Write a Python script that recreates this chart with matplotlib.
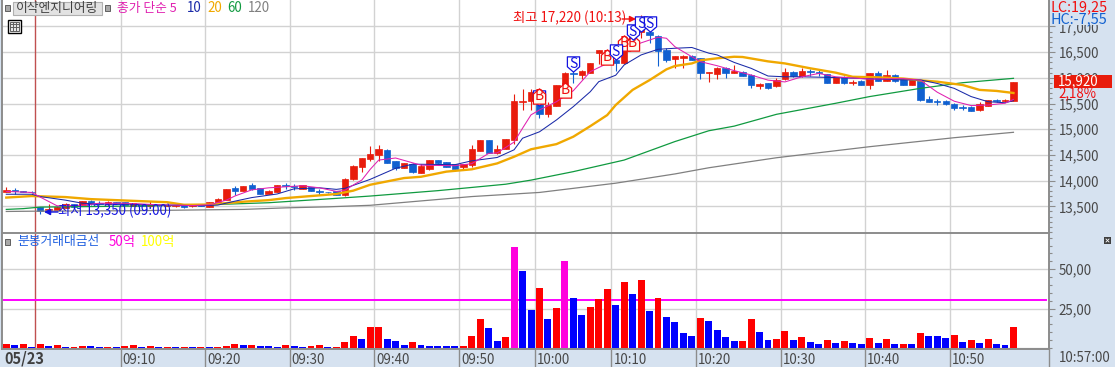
import matplotlib
matplotlib.use('Agg')
import matplotlib.pyplot as plt
from matplotlib.path import Path
from matplotlib.patches import Rectangle
from matplotlib.ticker import FuncFormatter, MultipleLocator
from matplotlib.transforms import ScaledTranslation

plt.rcParams['font.family'] = ['Liberation Sans Narrow', 'Noto Sans CJK KR', 'DejaVu Sans']

W, H = 1115, 367

# one minute candles, bar number is the x value
opens = [13780, 13810, 13790, 13780, 13480, 13420, 13430, 13475, 13545, 13525, 13600, 13560, 13540, 13585, 13580,
         13510, 13520, 13500, 13530, 13515, 13515, 13545, 13500, 13520, 13495, 13565, 13625, 13850, 13805, 13910,
         13850, 13745, 13785, 13915, 13895, 13845, 13880, 13790, 13780, 13800, 13720, 14030, 14270, 14420, 14500,
         14595, 14375, 14245, 14325, 14155, 14235, 14400, 14355, 14315, 14260, 14300, 14575, 14790, 14535, 14615,
         14790, 15525, 15550, 15505, 15300, 15450, 15880, 16100, 16055, 16090, 16475, 16315, 16345, 16280, 16880,
         16900, 16900, 16815, 16540, 16360, 16390, 16430, 16380, 16090, 16075, 16190, 16090, 16120, 16060, 15850,
         15895, 15840, 15970, 16115, 16030, 16135, 16115, 16065, 15895, 16025, 15890, 15945, 15860, 16095, 15945,
         16060, 15985, 15865, 15960, 15590, 15545, 15540, 15500, 15425, 15440, 15375, 15450, 15565, 15555, 15555]
closes = [13820, 13790, 13780, 13770, 13415, 13440, 13495, 13545, 13480, 13600, 13545, 13550, 13590, 13545, 13530,
          13560, 13510, 13545, 13520, 13525, 13525, 13480, 13545, 13510, 13585, 13640, 13835, 13805, 13895, 13830,
          13745, 13805, 13910, 13905, 13885, 13910, 13805, 13775, 13770, 13730, 14030, 14285, 14435, 14520, 14615,
          14350, 14245, 14335, 14170, 14285, 14400, 14350, 14270, 14235, 14325, 14615, 14790, 14545, 14615, 14810,
          15550, 15550, 15730, 15300, 15470, 15860, 16085, 16075, 16130, 16280, 16540, 16500, 16280, 16670, 16670,
          17050, 16830, 16530, 16350, 16425, 16425, 16350, 16090, 16115, 16185, 16100, 16135, 16040, 15870, 15875,
          15810, 15955, 16105, 16030, 16140, 16115, 16095, 15895, 16020, 15895, 15920, 15870, 16095, 15945, 16060,
          15945, 15865, 15960, 15570, 15535, 15535, 15490, 15405, 15415, 15360, 15495, 15570, 15555, 15565, 15920]
highs = [13870, 13850, 13800, 13790, 13490, 13540, 13510, 13560, 13550, 13610, 13625, 13600, 13595, 13590, 13590,
         13570, 13530, 13605, 13535, 13530, 13530, 13550, 13550, 13525, 13590, 13670, 13840, 13895, 13900, 13960,
         13855, 13810, 13915, 13960, 13930, 13915, 13885, 13845, 13785, 13805, 14060, 14300, 14440, 14680, 14695,
         14615, 14380, 14340, 14340, 14320, 14405, 14405, 14360, 14320, 14330, 14690, 14795, 14800, 14695, 14815,
         15690, 15785, 15790, 15700, 15520, 15870, 16110, 16240, 16160, 16285, 16545, 16520, 16480, 16700, 16900,
         17220, 17000, 16830, 16575, 16430, 16440, 16435, 16395, 16120, 16215, 16205, 16250, 16130, 16065, 15900,
         15900, 15990, 16190, 16135, 16190, 16180, 16150, 16070, 16025, 16030, 15960, 15950, 16100, 16130, 16160,
         16065, 15990, 15965, 15965, 15650, 15590, 15560, 15505, 15470, 15445, 15530, 15575, 15580, 15590, 15925]
lows = [13770, 13740, 13770, 13760, 13350, 13360, 13420, 13460, 13470, 13520, 13520, 13530, 13535, 13540, 13520,
        13505, 13500, 13495, 13515, 13510, 13480, 13475, 13495, 13505, 13490, 13560, 13620, 13725, 13800, 13825,
        13740, 13740, 13780, 13845, 13820, 13840, 13800, 13725, 13765, 13725, 13710, 14010, 14170, 14380, 14375,
        14345, 14210, 14240, 14150, 14150, 14210, 14310, 14265, 14230, 14200, 14260, 14570, 14540, 14510, 14610,
        14720, 15375, 15375, 15220, 15235, 15445, 15875, 15890, 15975, 16085, 16260, 16300, 16140, 16275, 16660,
        16780, 16680, 16230, 16310, 16200, 16200, 16340, 15985, 15925, 15985, 16000, 16085, 16035, 15810, 15790,
        15780, 15820, 15965, 16025, 16025, 16030, 16030, 15890, 15890, 15880, 15870, 15865, 15790, 15940, 15940,
        15920, 15860, 15860, 15555, 15530, 15480, 15470, 15375, 15370, 15355, 15350, 15445, 15520, 15530, 15550]

ma5_x = [0, 3, 4, 6, 9, 11, 14, 18, 22, 24, 26, 27, 29, 31, 33, 35, 37, 39, 40, 41, 42, 43, 44, 46, 49, 53, 55, 57,
         58, 60, 61, 62, 63, 65, 67, 69, 71, 73, 75, 77, 78, 79, 81, 82, 84, 86, 88, 90, 92, 94, 96, 98, 102, 106,
         108, 110, 112, 114, 116, 118, 119]
ma5_y = [13790, 13770, 13680, 13510, 13520, 13560, 13560, 13530, 13515, 13530, 13620, 13700, 13820, 13860, 13880,
         13900, 13860, 13790, 13810, 13915, 14010, 14220, 14400, 14440, 14300, 14290, 14330, 14530, 14540, 14750,
         15020, 15280, 15375, 15535, 15750, 16120, 16280, 16540, 16680, 16790, 16770, 16605, 16410, 16315, 16235,
         16140, 16055, 15955, 15920, 16020, 16085, 16020, 15975, 15985, 15955, 15720, 15545, 15460, 15470, 15505,
         15580]
ma10_x = [0, 3, 4, 7, 9, 11, 15, 23, 25, 27, 29, 32, 34, 37, 39, 40, 43, 46, 48, 53, 55, 58, 60, 61, 63, 65, 67, 69,
          70, 72, 73, 75, 77, 79, 81, 83, 84, 86, 88, 90, 92, 94, 98, 102, 106, 108, 110, 112, 114, 116, 118, 119]
ma10_y = [13735, 13735, 13690, 13620, 13560, 13545, 13540, 13510, 13525, 13600, 13670, 13740, 13840, 13860, 13830,
          13850, 14025, 14240, 14320, 14310, 14385, 14450, 14600, 14825, 14950, 15180, 15440, 15730, 15925, 16050,
          16250, 16445, 16555, 16575, 16590, 16480, 16445, 16300, 16185, 16035, 16020, 16020, 16005, 15980, 15960,
          15960, 15890, 15795, 15635, 15535, 15515, 15555]
ma20_x = [0, 3, 7, 10, 13, 16, 19, 21, 24, 28, 31, 33, 36, 39, 41, 43, 47, 49, 52, 55, 58, 60, 62, 65, 67, 69, 71,
          72, 74, 76, 78, 79, 81, 82, 84, 86, 87, 90, 92, 95, 98, 100, 103, 106, 108, 110, 113, 115, 117, 119]
ma20_y = [13670, 13700, 13680, 13640, 13620, 13600, 13580, 13530, 13535, 13590, 13620, 13660, 13700, 13740, 13805,
          13920, 14050, 14075, 14175, 14220, 14335, 14465, 14610, 14710, 14855, 15060, 15275, 15470, 15765, 15955,
          16165, 16230, 16280, 16340, 16380, 16410, 16405, 16320, 16280, 16185, 16100, 16020, 16010, 15985, 15950,
          15925, 15860, 15765, 15745, 15705]
ma60_x = [0, 2, 3, 4, 15, 23, 31, 39, 43, 51, 59, 62, 67, 73, 79, 83, 86, 91, 98, 102, 108, 113, 119]
ma60_y = [13440, 13455, 13470, 13485, 13505, 13525, 13570, 13655, 13700, 13805, 13930, 14010, 14175, 14400, 14760,
          14970, 15060, 15290, 15505, 15635, 15795, 15905, 15990]
ma120_x = [0, 3, 15, 28, 33, 38, 43, 55, 63, 72, 79, 83, 91, 102, 112, 119]
ma120_y = [13400, 13405, 13415, 13440, 13470, 13490, 13520, 13690, 13770, 13950, 14130, 14250, 14445, 14660, 14835,
           14940]

# buy / sell flags: bar, price at centre of flag
sell_x = [63, 67, 72, 74, 75, 76]
sell_y = [15600, 16269, 16509, 16885, 17047, 17047]
buy_x = [63, 66, 71, 73, 74]
buy_y = [15653, 15763, 16412, 16671, 16671]

# turnover per bar, r up, b down, m above the 50 line
volume = [2.6, 1.9, 2.6, 0.6, 2.6, 1.3, 1.9, 0.6, 0.6, 1.3, 1.3, 0.6, 0.6, 0.6, 1.3, 1.9, 0.6, 1.3, 0.6, 0.6, 0.6,
          0.6, 0.6, 0.6, 0.6, 0.6, 1.3, 2.6, 1.9, 1.9, 1.3, 1.3, 0.6, 1.9, 1.3, 0.6, 1.3, 1.9, 0.6, 0.6, 3.8, 7.7,
          5.8, 13.5, 13.5, 5.8, 4.5, 1.9, 3.8, 1.9, 1.3, 1.3, 1.3, 1.3, 1.3, 7.7, 18.6, 12.8, 4.5, 7.0, 64.0, 48.7,
          24.4, 37.8, 18.6, 25.6, 55.0, 32.0, 21.2, 26.3, 30.8, 37.2, 27.6, 41.7, 34.0, 43.0, 23.7, 32.0, 19.9, 16.7,
          9.6, 7.7, 19.2, 17.3, 11.5, 7.0, 4.5, 4.5, 18.6, 10.3, 5.1, 5.8, 10.9, 5.1, 7.0, 3.8, 2.6, 5.1, 3.2, 4.5,
          3.2, 2.6, 6.4, 3.2, 5.8, 2.6, 2.6, 2.6, 9.6, 7.7, 7.7, 6.4, 8.3, 3.8, 5.1, 3.2, 5.8, 2.6, 1.9, 13.5]
volume_kind = list('rbrbrbrbrrbbrbrrbrbrbrbrbrrrbrbbbrbbrrbrrrbr'
                   'rbbbrbbbbbrrrbbrmbbrbrmbbrrrbrbrbrbbbbrbbbbr'
                   'rbbrrbrbbrbrbbrbrbrbrbbbrbrbrbbr')
time_pos = [13.5, 23.5, 33.5, 43.5, 53.5, 62.5, 71.5, 81.5, 91.5, 101.5, 111.5]
time_labels = ['09:10', '09:20', '09:30', '09:40', '09:50', '10:00', '10:10', '10:20', '10:30', '10:40', '10:50']
vol_line = 30.7

UP, DOWN = '#e81c0c', '#1060d0'
GRID = '#d2d2d2'
PANEL = '#d6e2f0'
AXIS = '#8c8c8c'
TEXT = '#484848'
FS = 9.6


def box(x0, y0, x1, y1):
    # pixel box, y measured from the top
    return [x0 / W, 1 - y1 / H, (x1 - x0) / W, (y1 - y0) / H]


fig = plt.figure(figsize=(W / 100, H / 100), dpi=100, facecolor=PANEL)
ax = fig.add_axes(box(2, 0, 1049, 233))
ax2 = fig.add_axes(box(2, 233, 1049, 349))

xlim = (-0.508, 123.2)
for a in (ax, ax2):
    a.set_xlim(xlim)
    a.set_axisbelow(True)
    a.grid(True, color=GRID, lw=1)
    a.yaxis.tick_right()
    a.spines['top'].set_visible(False)
    a.spines['bottom'].set_visible(False)
    for s in ('left', 'right'):
        a.spines[s].set_color(AXIS)
        a.spines[s].set_linewidth(1.4)
    a.set_xticks(time_pos)
    a.axvline(3.45, color='#c05050', lw=1, zorder=1)
    a.tick_params(axis='y', which='major', length=4.5, width=0.8, color=AXIS, labelcolor=TEXT,
                  labelsize=FS, pad=2.5)
    a.tick_params(axis='y', which='minor', length=2.4, width=0.8, color=AXIS)
    a.tick_params(axis='y', which='minor', left=False)

# PRICE PANEL
ax.set_ylim(12981, 17514)
ax.set_yticks(range(13500, 17500, 500))
ax.yaxis.set_major_formatter(FuncFormatter(lambda v, p: '{:,.0f}'.format(v)))
ax.yaxis.set_minor_locator(MultipleLocator(100))
ax.tick_params(axis='x', length=0, labelbottom=False)

bars = list(range(len(opens)))
colors = [UP if c >= o else DOWN for o, c in zip(opens, closes)]
ax.vlines(bars, lows, highs, colors=colors, lw=0.8, zorder=2)
ax.bar(bars, [abs(c - o) for o, c in zip(opens, closes)], bottom=[min(o, c) for o, c in zip(opens, closes)],
       width=0.76, color=colors, edgecolor=colors, lw=0.5, zorder=2)

ax.plot(ma120_x, ma120_y, color='#808080', lw=0.9, zorder=3)
ax.plot(ma60_x, ma60_y, color='#109a40', lw=0.9, zorder=3)
ax.plot(ma20_x, ma20_y, color='#f0a800', lw=1.7, zorder=3)
ax.plot(ma10_x, ma10_y, color='#1a2aa8', lw=0.75, zorder=3)
ax.plot(ma5_x, ma5_y, color='#e020b0', lw=0.75, zorder=3)

# flags, pentagon with the tip up for buy and down for sell
buy_flag = Path([(-0.8, -1), (0.8, -1), (0.8, 0.3), (0, 1), (-0.8, 0.3), (-0.8, -1)], closed=True)
sell_flag = Path([(-0.8, 1), (0.8, 1), (0.8, -0.3), (0, -1), (-0.8, -0.3), (-0.8, 1)], closed=True)
# the first sell flag sits behind a buy flag, only its tip shows
ax.plot(sell_x[:1], sell_y[:1], ls='', marker=sell_flag, ms=11, mfc='white', mec='#1414e0', mew=0.9, zorder=4)
ax.plot(buy_x, buy_y, ls='', marker=buy_flag, ms=11, mfc='#fffdf0', mec='#f01010', mew=0.9, zorder=5)
for x, y in zip(buy_x, buy_y):
    ax.text(x, y, 'B', color='#f01010', fontsize=10, ha='center', va='center', zorder=5)
ax.plot(sell_x[1:], sell_y[1:], ls='', marker=sell_flag, ms=11, mfc='white', mec='#1414e0', mew=0.9, zorder=6)
for x, y in zip(sell_x[1:], sell_y[1:]):
    ax.text(x, y, 'S', color='#1414e0', fontsize=10, ha='center', va='center', zorder=6)

# TURNOVER PANEL
ax2.set_ylim(-0.64, 73)
ax2.set_yticks([25, 50])
ax2.yaxis.set_major_formatter(FuncFormatter(lambda v, p: '{:.0f},00'.format(v)))
ax2.yaxis.set_minor_locator(MultipleLocator(5))
ax2.spines['top'].set_visible(True)
ax2.spines['top'].set_color(AXIS)
ax2.spines['top'].set_linewidth(1.4)
ax2.spines['bottom'].set_visible(True)
ax2.spines['bottom'].set_color(AXIS)
ax2.spines['bottom'].set_linewidth(1.4)
ax2.axhline(0, color=GRID, lw=1, zorder=1)
ax2.plot([-0.5, 122.9], [vol_line, vol_line], color='#ff00ff', lw=1.4, zorder=2)
kind_color = {'r': '#ff0000', 'b': '#0000ff', 'm': '#ff00dd'}
ax2.bar(bars, volume, width=0.82, color=[kind_color[k] for k in volume_kind], zorder=3)
ax2.set_xticks(time_pos)
ax2.set_xticklabels(time_labels, ha='left', fontsize=FS, color=TEXT)
ax2.tick_params(axis='x', length=13, width=1, color=AXIS, direction='out', pad=-10.4)
for lab in ax2.get_xticklabels():
    lab.set_transform(lab.get_transform() + ScaledTranslation(2 / 100, 0, fig.dpi_scale_trans))

# everything that is window furniture goes on a pixel overlay
ui = fig.add_axes([0, 0, 1, 1], zorder=10)
ui.set_xlim(0, W)
ui.set_ylim(H, 0)
ui.axis('off')
ui.patch.set_alpha(0)
ui.plot([1049, 1049], [349, 367], color=AXIS, lw=1)


def square(x, y):
    ui.add_patch(Rectangle((x - 2.5, y - 3), 5, 6, fc='#a8a8a8', ec='#606060', lw=0.7))


def label(x, y, s, color, size=FS, **kw):
    ui.text(x, y, s, color=color, fontsize=size, ha='left', va='center', **kw)


square(7.5, 8)
square(107.5, 8)
ui.add_patch(Rectangle((12.5, 2), 89, 13, fc='#e2e2e2', ec='#b0b0b0', lw=0.8))
label(16, 8.5, '이삭엔지니어링', '#404040', size=9.2)
label(117, 8.5, '종가 단순 5', '#e020b0', size=9.2)
label(187, 8.5, '10', '#1a2aa8')
label(207, 8.5, '20', '#f0a800')
label(227, 8.5, '60', '#109a40')
label(248, 8.5, '120', '#808080')

# table icon under the title
ui.add_patch(Rectangle((7.5, 19.5), 13, 13, fc='white', ec='black', lw=1))
ui.add_patch(Rectangle((9.5, 21.5), 9, 9, fc='#e8e8e8', ec='#606060', lw=0.7))
ui.plot([9.5, 18.5], [24, 24], color='#606060', lw=0.7)
ui.plot([9.5, 18.5], [27, 27], color='#606060', lw=0.7)
ui.plot([12.5, 12.5], [21.5, 30.5], color='#606060', lw=0.7)
ui.plot([15.5, 15.5], [21.5, 30.5], color='#606060', lw=0.7)

# high and low notes
label(513, 18, '최고 17,220 (10:13)', '#f01010', size=9.6)
ui.annotate('', xy=(636, 19), xytext=(622, 19), arrowprops=dict(arrowstyle='-|>', color='#f01010', lw=1, mutation_scale=9,
                                                               shrinkA=0, shrinkB=0))
label(58, 211, '최저 13,350 (09:00)', '#1414e0', size=9.6)
ui.annotate('', xy=(44, 212), xytext=(58, 212), arrowprops=dict(arrowstyle='-|>', color='#1414e0', lw=1, mutation_scale=9,
                                                               shrinkA=0, shrinkB=0))

# right hand side readouts cover the scale labels
ui.add_patch(Rectangle((1050, 0), 65, 24.5, fc=PANEL, ec='none'))
label(1051, 7, 'LC:19,25', '#f01010', size=10.4)
label(1051, 19, 'HC:-7,55', '#1060d0', size=10.4)
ui.add_patch(Rectangle((1054, 75), 58, 13, fc='#e81c0c', ec='none'))
label(1058, 81, '15,920', 'white')
ui.add_patch(Rectangle((1057, 88), 34, 11, fc=PANEL, ec='none'))
label(1058, 93, '2,18%', '#f01010')

# turnover legend
square(7.5, 242)
label(17, 242, '분봉거래대금선', '#2060e0', size=9.2)
label(109, 242, '50억', '#ff00dd')
label(141, 242, '100억', '#ffff00')

# small close button of the lower panel
ui.add_patch(Rectangle((1104, 237), 7, 7, fc='#404040', ec='none'))
ui.plot([1106, 1109], [239, 242], color='white', lw=0.6)
ui.plot([1106, 1109], [242, 239], color='white', lw=0.6)

ui.text(4, 358, '05/23', color='#404040', fontsize=10.5, fontweight='bold', ha='left', va='center')
label(1058.5, 357.5, '10:57:00', TEXT)

fig.savefig('out.png', dpi=100, facecolor=PANEL)
